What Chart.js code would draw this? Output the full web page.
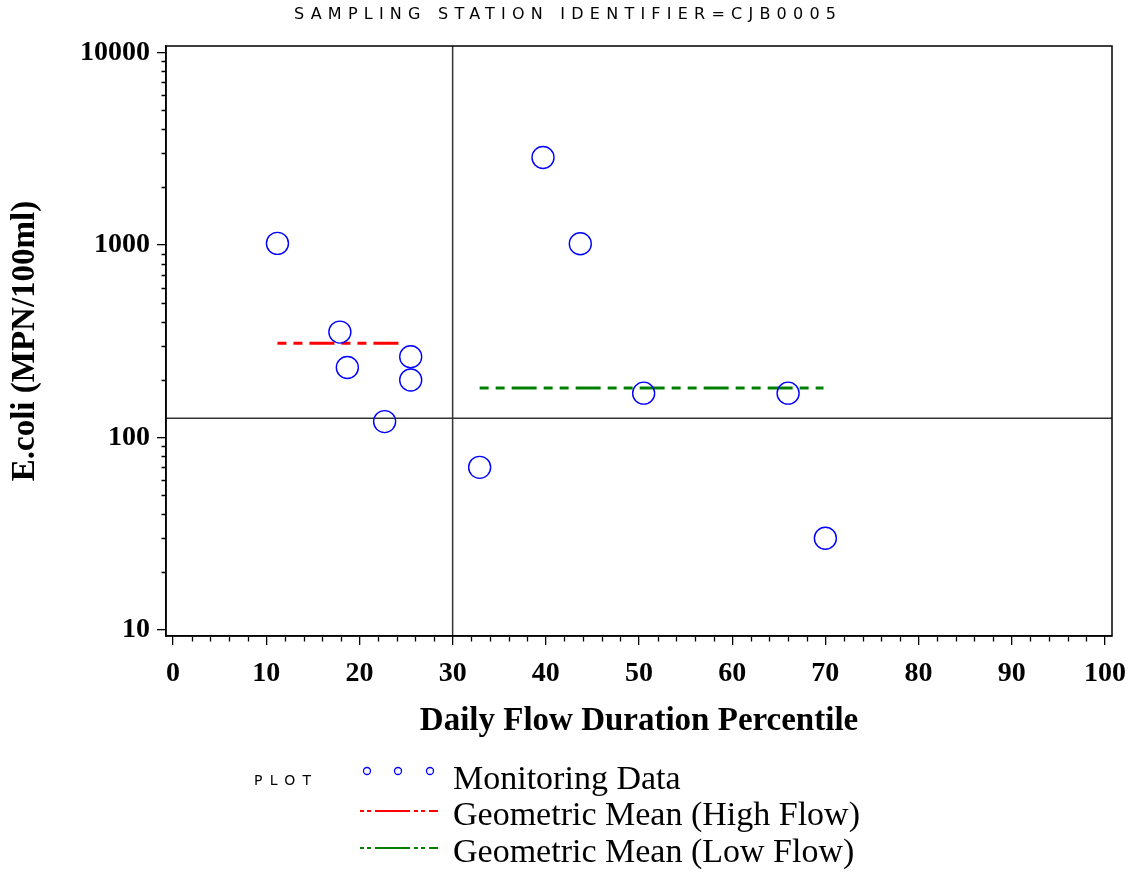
<!DOCTYPE html>
<html><head><meta charset="utf-8">
<script src="https://cdn.jsdelivr.net/npm/chart.js@4/dist/chart.umd.min.js"></script>
<style>html,body{margin:0;padding:0;background:#fff;}#wrap{position:relative;width:1133px;height:872px;}</style>
</head><body><div id="wrap"><canvas id="c" width="1133" height="872"></canvas></div>
<script>
// ---- data ----
const titleText = 'SAMPLING STATION IDENTIFIER=CJB0005';
const xTitle = 'Daily Flow Duration Percentile';
const yTitle = 'E.coli (MPN/100ml)';
const legendHeader = 'PLOT';
const seriesNames = ['Monitoring Data', 'Geometric Mean (High Flow)', 'Geometric Mean (Low Flow)'];
const flowPct = [11.2, 17.9, 18.7, 25.5, 25.5, 22.7, 32.9, 39.7, 43.7, 50.5, 66.0, 70.0];
const ecoli   = [1020, 353, 231, 263, 199, 121, 70, 2850, 1016, 170, 170, 30];
const highFlowX = [11.2, 24.8];
const highFlowMean = 309;
const lowFlowX = [32.9, 69.8];
const lowFlowMean = 181;
const refPct = 30;
const refEcoli = 126;
const xTickValues = [0, 10, 20, 30, 40, 50, 60, 70, 80, 90, 100];
const yTickValues = [10, 100, 1000, 10000];
const xRange = [-0.76, 100.76];
const yRange = [9.31, 10815];

// ---- styles ----
const BLUE = '#0000ff', RED = '#ff0000', GREEN = '#008000';
const meanDash = [9, 7, 9, 7, 25, 7];
const tickFont = {family: "'Liberation Serif', serif", weight: 'bold', size: 28};
const titleFont = {family: "'Liberation Serif', serif", weight: 'bold', size: 33};

const frame = {
  id: 'frame',
  afterDatasetsDraw(chart) {
    const {ctx, chartArea: a} = chart;
    ctx.save(); ctx.strokeStyle = '#000'; ctx.lineWidth = 1.5;
    ctx.strokeRect(a.left, a.top, a.right - a.left, a.bottom - a.top);
    ctx.restore();
  }
};

const minorTicks = {
  id: 'minorTicks',
  afterDraw(chart) {
    const {ctx, chartArea: a, scales: {x, y}} = chart;
    ctx.save(); ctx.strokeStyle = '#000'; ctx.lineWidth = 1.3; ctx.beginPath();
    for (let v = 2; v < 100; v += 2) {
      if (v % 10 === 0) continue;
      const px = Math.round(x.getPixelForValue(v)) + 0.5;
      ctx.moveTo(px, a.bottom + 1); ctx.lineTo(px, a.bottom + 5.5);
    }
    for (const d of [10, 100, 1000]) for (let m = 2; m <= 9; m++) {
      const py = Math.round(y.getPixelForValue(d * m)) + 0.5;
      ctx.moveTo(a.left - 4.5, py); ctx.lineTo(a.left, py);
    }
    ctx.stroke(); ctx.restore();
  }
};

const textDecor = {
  id: 'textDecor',
  afterDraw(chart) {
    const ctx = chart.ctx;
    const ds = chart.data.datasets;
    ctx.save();
    // title
    ctx.fillStyle = '#000';
    ctx.font = "16px 'DejaVu Sans', sans-serif";
    ctx.textBaseline = 'middle'; ctx.textAlign = 'left';
    ctx.letterSpacing = '0px';
    const tw = ctx.measureText(titleText).width;
    const targetW = 542, n = titleText.length;
    ctx.letterSpacing = ((targetW - tw) / (n - 1)) + 'px';
    ctx.fillText(titleText, 294, 15);
    // legend header
    ctx.font = "14px 'DejaVu Sans', sans-serif";
    ctx.letterSpacing = '0px';
    const pw = ctx.measureText(legendHeader).width;
    ctx.letterSpacing = ((57 - pw) / 3) + 'px';
    ctx.fillText(legendHeader, 254, 781);
    ctx.letterSpacing = '0px';
    // legend markers
    ctx.strokeStyle = ds[0].borderColor; ctx.lineWidth = 1.3;
    for (const mx of [367, 398, 430]) { ctx.beginPath(); ctx.arc(mx, 771, 3.5, 0, Math.PI * 2); ctx.stroke(); }
    // legend lines
    const legLines = [[ds[1].borderColor, 811], [ds[2].borderColor, 848]];
    ctx.lineWidth = 2;
    for (const [col, ly] of legLines) {
      ctx.strokeStyle = col; ctx.setLineDash([4, 3, 4, 4, 35, 4]);
      ctx.beginPath(); ctx.moveTo(360, ly); ctx.lineTo(438, ly); ctx.stroke();
    }
    ctx.setLineDash([]);
    // legend texts
    ctx.fillStyle = '#000'; ctx.font = "34px 'Liberation Serif', serif"; ctx.textBaseline = 'alphabetic';
    ctx.fillText(seriesNames[0], 453, 789);
    ctx.fillText(seriesNames[1], 453, 825);
    ctx.fillText(seriesNames[2], 453, 862);
    ctx.restore();
  }
};

const cfg = {
  type: 'scatter',
  data: {
    datasets: [
      {label: seriesNames[0], data: flowPct.map((x, i) => ({x, y: ecoli[i]})),
       pointStyle: 'circle', pointRadius: 11, pointBorderWidth: 1.4, borderColor: BLUE, pointBorderColor: BLUE,
       backgroundColor: 'rgba(0,0,0,0)', pointBackgroundColor: 'rgba(0,0,0,0)', order: 0},
      {label: seriesNames[1], data: highFlowX.map(x => ({x, y: highFlowMean})), showLine: true,
       borderColor: RED, borderWidth: 3, borderDash: meanDash, pointRadius: 0, order: 1},
      {label: seriesNames[2], data: lowFlowX.map(x => ({x, y: lowFlowMean})), showLine: true,
       borderColor: GREEN, borderWidth: 3, borderDash: meanDash, pointRadius: 0, order: 1},
      {label: 'ref-h', data: [{x: xRange[0], y: refEcoli}, {x: xRange[1], y: refEcoli}], showLine: true,
       borderColor: '#333', borderWidth: 1.5, pointRadius: 0, order: 2},
      {label: 'ref-v', data: [{x: refPct, y: yRange[0]}, {x: refPct, y: yRange[1]}], showLine: true,
       borderColor: '#333', borderWidth: 1.5, pointRadius: 0, order: 2}
    ]
  },
  options: {
    responsive: false, animation: false, devicePixelRatio: 1,
    layout: {padding: {left: 0, top: 46, right: 21, bottom: 126}},
    plugins: {legend: {display: false}, tooltip: {enabled: false}, title: {display: false}},
    scales: {
      x: {
        type: 'linear', min: xRange[0], max: xRange[1],
        afterBuildTicks: s => { s.ticks = xTickValues.map(v => ({value: v})); },
        afterFit: s => { s.height = 110; s.paddingLeft = 0; s.paddingRight = 0; },
        ticks: {color: '#000', font: tickFont, padding: 12, maxRotation: 0, autoSkip: false},
        grid: {display: true, drawOnChartArea: false, drawTicks: true, tickLength: 9, color: '#000', lineWidth: 1.3},
        border: {display: true, color: '#000', width: 1.5},
        title: {display: true, text: xTitle, color: '#000', font: titleFont, padding: {top: 0, bottom: 5}}
      },
      y: {
        type: 'logarithmic', min: yRange[0], max: yRange[1],
        afterBuildTicks: s => { s.ticks = yTickValues.map(v => ({value: v})); },
        afterFit: s => { s.width = 166; s.paddingTop = 0; s.paddingBottom = 0; },
        ticks: {color: '#000', font: tickFont, padding: 7, autoSkip: false, callback: v => String(v)},
        grid: {display: true, drawOnChartArea: false, drawTicks: true, tickLength: 9, color: '#000', lineWidth: 1.3},
        border: {display: true, color: '#000', width: 1.5},
        title: {display: true, text: yTitle, color: '#000', font: titleFont, padding: {top: 6, bottom: 0}}
      }
    }
  },
  plugins: [frame, minorTicks, textDecor]
};
new Chart(document.getElementById('c'), cfg);
</script></body></html>
